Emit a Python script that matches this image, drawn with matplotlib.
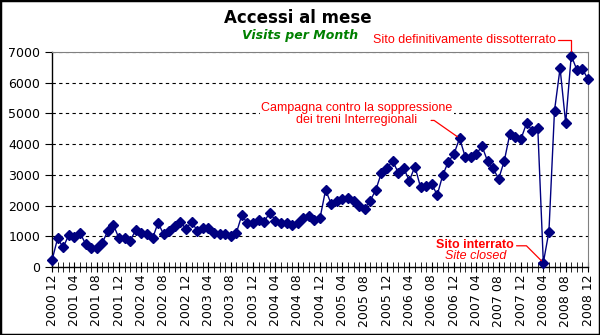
import numpy as np
import pandas as pd
import matplotlib
matplotlib.use("Agg")
import matplotlib.pyplot as plt
from matplotlib.patches import Rectangle

# accessi mensili, dic 2000 -> dic 2008
months = pd.period_range("2000-12", "2008-12", freq="M")
month_labels = [m.strftime("%Y %m") for m in months]
visits = [220, 930, 640, 1040, 990, 1120, 750, 610, 630, 790,
          1170, 1370, 930, 930, 860, 1200, 1120, 1060, 930, 1440,
          1060, 1180, 1335, 1475, 1230, 1475, 1180, 1260, 1260, 1120,
          1065, 1065, 1010, 1100, 1690, 1420, 1420, 1530, 1475, 1770,
          1510, 1440, 1440, 1370, 1420, 1590, 1650, 1530, 1590, 2510,
          2050, 2160, 2200, 2240, 2160, 1990, 1900, 2160, 2510, 3070,
          3210, 3460, 3070, 3210, 2810, 3270, 2600, 2640, 2700, 2345,
          3000, 3430, 3680, 4190, 3590, 3590, 3670, 3940, 3450, 3210,
          2870, 3450, 4330, 4240, 4170, 4680, 4440, 4540, 140, 1150,
          5090, 6470, 4680, 6880, 6420, 6440, 6120]

i_campagna = 73
i_chiuso = 88
i_riaperto = 93

plt.rcParams['font.family'] = ['DejaVu Sans']
fig = plt.figure(figsize=(6, 3.35), dpi=100)
fig.patches.append(Rectangle((0, 0), 1, 1, transform=fig.transFigure,
                             fill=False, edgecolor='black', linewidth=2.5))
ax = fig.add_axes([0.0867, 0.203, 0.8933, 0.642])

x = np.arange(len(visits))
ax.plot(x, visits, color='#000080', lw=1, marker='D', ms=5, clip_on=False, zorder=3)

ax.set_xlim(0, len(visits) - 1)
ax.set_ylim(0, 7000)
ax.set_yticks(range(0, 7001, 1000))
ax.set_xticks(x[::4])
ax.set_xticklabels(month_labels[::4], rotation=90)
ax.set_xticks(x, minor=True)
ax.tick_params(axis='y', direction='out', length=5, labelsize=9)
ax.tick_params(axis='x', which='both', direction='inout', length=7, labelsize=9, pad=2)
ax.grid(axis='y', color='black', linestyle=(0, (3, 3)), linewidth=0.8)
ax.set_axisbelow(True)
for s in ['top', 'right']:
    ax.spines[s].set_color('#808080')
ax.spines['left'].set_linewidth(1)
ax.spines['bottom'].set_linewidth(1)

fig.text(0.497, 1 - 18 / 335, "Accessi al mese", ha='center', va='center',
         fontsize=12, fontweight='bold')
fig.text(0.5, 1 - 36 / 335, "Visits per Month", ha='center', va='center',
         fontsize=9, fontweight='bold', style='italic', color='#008000')

red = '#ff0000'
lab = dict(color=red, fontsize=9, family='Liberation Sans', clip_on=False)

# sito dissotterrato
ax.text(90.3, 7400, "Sito definitivamente dissotterrato", ha='right', va='center', **lab)
ax.annotate('', xy=(i_riaperto, visits[i_riaperto]), xytext=(90.7, 7380),
            annotation_clip=False,
            arrowprops=dict(arrowstyle='-', color=red, lw=0.9, shrinkA=0, shrinkB=3,
                            connectionstyle='angle,angleA=0,angleB=90,rad=0'))

# campagna interregionali (sfondo bianco copre la griglia)
ax.text(54.6, 4985, "Campagna contro la soppressione\ndei treni Interregionali",
        ha='center', va='center', linespacing=1.05,
        bbox=dict(facecolor='white', edgecolor='none', pad=1), **lab)
ax.annotate('', xy=(i_campagna, visits[i_campagna]), xytext=(67.9, 4770),
            annotation_clip=False,
            arrowprops=dict(arrowstyle='-', color=red, lw=0.9, shrinkA=0, shrinkB=2,
                            connectionstyle='angle,angleA=0,angleB=145,rad=0'))

# sito interrato
ax.text(75.8, 710, "Sito interrato", ha='center', va='center', fontweight='bold', **lab)
ax.text(75.8, 350, "Site closed", ha='center', va='center', style='italic', **lab)
ax.annotate('', xy=(i_chiuso, visits[i_chiuso]), xytext=(83.2, 690),
            annotation_clip=False,
            arrowprops=dict(arrowstyle='-', color=red, lw=0.9, shrinkA=0, shrinkB=2,
                            connectionstyle='angle,angleA=0,angleB=135,rad=0'))

fig.savefig("out.png", dpi=100)
